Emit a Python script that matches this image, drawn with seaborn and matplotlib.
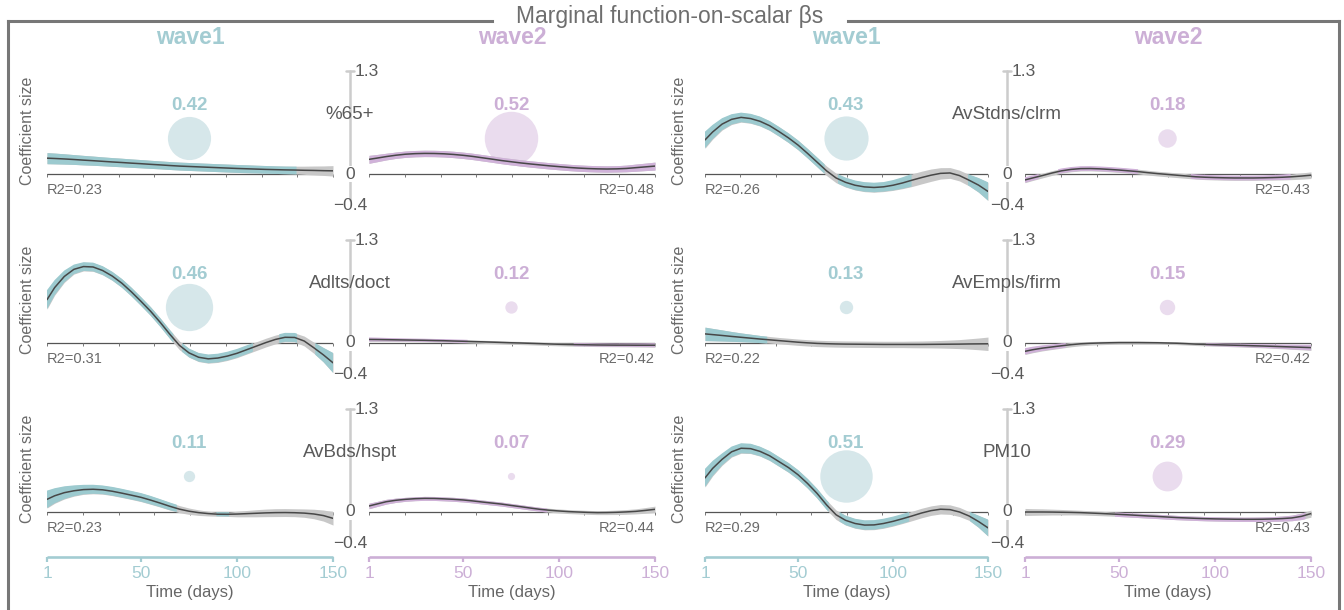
import numpy as np
import matplotlib
matplotlib.use("Agg")
import matplotlib.pyplot as plt
import matplotlib.transforms as mtransforms
from matplotlib.lines import Line2D
import seaborn as sns

sns.set_theme(style="white")
plt.rcParams['font.family'] = ['Liberation Sans', 'DejaVu Sans']

# ---------------- data ----------------
days = [1, 5, 10, 15, 20, 25, 30, 35, 40, 45, 50, 55, 60, 65, 70, 75,
        80, 85, 90, 95, 100, 105, 110, 115, 120, 125, 130, 135, 140, 145, 150]

variables_left = ["%65+", "Adlts/doct", "AvBds/hspt"]
variables_right = ["AvStdns/clrm", "AvEmpls/firm", "PM10"]

# %65+
pct65_w1_mean = [0.200, 0.196, 0.190, 0.183, 0.175, 0.168, 0.160,
                 0.152, 0.145, 0.137, 0.130, 0.122, 0.115, 0.107, 0.100,
                 0.095, 0.090, 0.085, 0.080, 0.075, 0.070, 0.066, 0.062,
                 0.058, 0.055, 0.052, 0.050, 0.047, 0.045, 0.042, 0.040]
pct65_w1_half = [0.070, 0.068, 0.065, 0.062, 0.060, 0.058, 0.056,
                 0.055, 0.054, 0.053, 0.052, 0.051, 0.050, 0.050, 0.050,
                 0.050, 0.050, 0.050, 0.050, 0.050, 0.050, 0.050, 0.049,
                 0.049, 0.048, 0.048, 0.049, 0.052, 0.056, 0.060, 0.066]
pct65_w2_mean = [0.185, 0.200, 0.220, 0.237, 0.250, 0.257, 0.260,
                 0.259, 0.255, 0.247, 0.236, 0.222, 0.205, 0.188, 0.170,
                 0.155, 0.140, 0.127, 0.115, 0.103, 0.093, 0.083, 0.075,
                 0.069, 0.065, 0.063, 0.065, 0.070, 0.080, 0.090, 0.100]
pct65_w2_half = [0.050, 0.046, 0.042, 0.040, 0.040, 0.040, 0.040,
                 0.040, 0.040, 0.040, 0.040, 0.040, 0.040, 0.040, 0.040,
                 0.040, 0.040, 0.040, 0.040, 0.040, 0.040, 0.040, 0.040,
                 0.040, 0.040, 0.040, 0.040, 0.042, 0.045, 0.047, 0.050]

# Adlts/doct
adlts_w1_mean = [0.547, 0.700, 0.840, 0.930, 0.965, 0.960, 0.915,
                 0.845, 0.755, 0.645, 0.525, 0.400, 0.260, 0.110, -0.030,
                 -0.125, -0.180, -0.200, -0.190, -0.165, -0.130, -0.085, -0.040,
                 0.005, 0.045, 0.072, 0.070, 0.025, -0.060, -0.150, -0.250]
adlts_w1_half = [0.120, 0.095, 0.075, 0.060, 0.055, 0.055, 0.055,
                 0.055, 0.055, 0.055, 0.055, 0.055, 0.055, 0.055, 0.055,
                 0.055, 0.055, 0.055, 0.055, 0.055, 0.055, 0.055, 0.055,
                 0.055, 0.055, 0.056, 0.057, 0.062, 0.070, 0.090, 0.125]
adlts_w2_mean = [0.045, 0.044, 0.042, 0.040, 0.038, 0.036, 0.034,
                 0.031, 0.029, 0.025, 0.022, 0.018, 0.015, 0.011, 0.007,
                 0.003, 0.000, -0.004, -0.008, -0.012, -0.016, -0.019, -0.021,
                 -0.023, -0.025, -0.026, -0.027, -0.027, -0.028, -0.028, -0.028]
adlts_w2_half = [0.025, 0.024, 0.022, 0.021, 0.020, 0.020, 0.020,
                 0.020, 0.020, 0.020, 0.020, 0.020, 0.020, 0.020, 0.020,
                 0.020, 0.020, 0.020, 0.020, 0.020, 0.020, 0.020, 0.020,
                 0.020, 0.020, 0.020, 0.020, 0.021, 0.022, 0.023, 0.025]

# AvBds/hspt
avbds_w1_mean = [0.160, 0.205, 0.244, 0.268, 0.283, 0.287, 0.280,
                 0.262, 0.238, 0.212, 0.185, 0.150, 0.112, 0.072, 0.036,
                 0.010, -0.008, -0.020, -0.028, -0.029, -0.026, -0.021, -0.016,
                 -0.011, -0.008, -0.007, -0.009, -0.014, -0.025, -0.045, -0.080]
avbds_w1_half = [0.110, 0.095, 0.080, 0.068, 0.060, 0.057, 0.055,
                 0.055, 0.055, 0.054, 0.054, 0.053, 0.050, 0.048, 0.045,
                 0.040, 0.035, 0.030, 0.026, 0.027, 0.035, 0.040, 0.045,
                 0.048, 0.050, 0.050, 0.050, 0.053, 0.060, 0.070, 0.085]
avbds_w2_mean = [0.076, 0.100, 0.130, 0.148, 0.160, 0.168, 0.172,
                 0.171, 0.166, 0.160, 0.152, 0.140, 0.126, 0.113, 0.100,
                 0.083, 0.067, 0.050, 0.034, 0.022, 0.013, 0.005, 0.000,
                 -0.005, -0.008, -0.007, -0.004, 0.001, 0.008, 0.020, 0.034]
avbds_w2_half = [0.035, 0.032, 0.030, 0.027, 0.025, 0.025, 0.025,
                 0.025, 0.025, 0.025, 0.025, 0.025, 0.025, 0.025, 0.025,
                 0.025, 0.025, 0.025, 0.025, 0.025, 0.025, 0.025, 0.025,
                 0.025, 0.025, 0.026, 0.028, 0.030, 0.032, 0.036, 0.040]

# AvStdns/clrm
avstd_w1_mean = [0.430, 0.530, 0.630, 0.690, 0.715, 0.700, 0.665,
                 0.610, 0.535, 0.455, 0.365, 0.260, 0.150, 0.040, -0.050,
                 -0.105, -0.142, -0.163, -0.170, -0.162, -0.142, -0.113, -0.078,
                 -0.045, -0.015, 0.008, 0.013, -0.020, -0.078, -0.140, -0.220]
avstd_w1_half = [0.105, 0.090, 0.075, 0.065, 0.060, 0.060, 0.060,
                 0.060, 0.060, 0.060, 0.060, 0.060, 0.060, 0.060, 0.060,
                 0.060, 0.060, 0.060, 0.060, 0.060, 0.065, 0.072, 0.080,
                 0.080, 0.078, 0.072, 0.068, 0.068, 0.072, 0.090, 0.115]
avstd_w2_mean = [-0.075, -0.050, -0.020, 0.012, 0.040, 0.058, 0.068,
                 0.069, 0.065, 0.058, 0.050, 0.040, 0.030, 0.017, 0.005,
                 -0.005, -0.015, -0.025, -0.035, -0.041, -0.045, -0.048, -0.050,
                 -0.050, -0.050, -0.048, -0.045, -0.041, -0.035, -0.026, -0.015]
avstd_w2_half = [0.035, 0.032, 0.030, 0.030, 0.030, 0.030, 0.030,
                 0.030, 0.030, 0.030, 0.030, 0.030, 0.030, 0.030, 0.030,
                 0.030, 0.030, 0.030, 0.030, 0.030, 0.030, 0.030, 0.030,
                 0.030, 0.030, 0.030, 0.032, 0.034, 0.036, 0.039, 0.042]

# AvEmpls/firm
avemp_w1_mean = [0.115, 0.106, 0.095, 0.083, 0.072, 0.061, 0.050,
                 0.040, 0.030, 0.020, 0.010, 0.002, -0.005, -0.009, -0.012,
                 -0.014, -0.015, -0.016, -0.017, -0.018, -0.018, -0.018, -0.018,
                 -0.018, -0.017, -0.016, -0.015, -0.014, -0.012, -0.011, -0.010]
avemp_w1_half = [0.085, 0.078, 0.070, 0.062, 0.055, 0.050, 0.045,
                 0.042, 0.040, 0.040, 0.040, 0.040, 0.040, 0.040, 0.040,
                 0.040, 0.040, 0.040, 0.040, 0.040, 0.040, 0.040, 0.042,
                 0.043, 0.045, 0.048, 0.052, 0.057, 0.065, 0.074, 0.085]
avemp_w2_mean = [-0.105, -0.085, -0.065, -0.050, -0.035, -0.021, -0.010,
                 -0.004, 0.000, 0.003, 0.005, 0.005, 0.005, 0.004, 0.003,
                 0.000, -0.003, -0.008, -0.014, -0.018, -0.022, -0.025, -0.028,
                 -0.031, -0.035, -0.038, -0.042, -0.046, -0.050, -0.054, -0.058]
avemp_w2_half = [0.040, 0.038, 0.035, 0.032, 0.030, 0.027, 0.025,
                 0.023, 0.022, 0.021, 0.020, 0.020, 0.020, 0.019, 0.018,
                 0.018, 0.018, 0.018, 0.018, 0.018, 0.018, 0.018, 0.020,
                 0.021, 0.022, 0.023, 0.025, 0.027, 0.030, 0.032, 0.035]

# PM10
pm10_w1_mean = [0.430, 0.550, 0.665, 0.760, 0.805, 0.800, 0.765,
                0.710, 0.635, 0.560, 0.470, 0.360, 0.235, 0.090, -0.035,
                -0.105, -0.145, -0.165, -0.163, -0.145, -0.118, -0.085, -0.050,
                -0.013, 0.017, 0.035, 0.030, 0.000, -0.050, -0.120, -0.200]
pm10_w1_half = [0.115, 0.095, 0.075, 0.066, 0.063, 0.062, 0.060,
                0.060, 0.060, 0.060, 0.060, 0.060, 0.060, 0.060, 0.060,
                0.060, 0.060, 0.060, 0.060, 0.060, 0.060, 0.060, 0.060,
                0.060, 0.060, 0.060, 0.060, 0.058, 0.055, 0.075, 0.105]
pm10_w2_mean = [0.000, 0.000, 0.000, -0.001, -0.003, -0.005, -0.008,
                -0.013, -0.018, -0.024, -0.030, -0.036, -0.043, -0.050, -0.056,
                -0.063, -0.070, -0.075, -0.080, -0.084, -0.087, -0.089, -0.091,
                -0.092, -0.092, -0.091, -0.088, -0.083, -0.075, -0.055, -0.020]
pm10_w2_half = [0.045, 0.042, 0.040, 0.037, 0.035, 0.032, 0.030,
                0.029, 0.028, 0.027, 0.027, 0.027, 0.027, 0.027, 0.027,
                0.027, 0.027, 0.027, 0.027, 0.027, 0.027, 0.027, 0.027,
                0.027, 0.028, 0.029, 0.030, 0.032, 0.035, 0.040, 0.045]

# bubble sizes (scalar effects) and R2 per variable
bubble_w1 = {"%65+": 0.42, "Adlts/doct": 0.46, "AvBds/hspt": 0.11,
             "AvStdns/clrm": 0.43, "AvEmpls/firm": 0.13, "PM10": 0.51}
bubble_w2 = {"%65+": 0.52, "Adlts/doct": 0.12, "AvBds/hspt": 0.07,
             "AvStdns/clrm": 0.18, "AvEmpls/firm": 0.15, "PM10": 0.29}
r2_w1 = {"%65+": 0.23, "Adlts/doct": 0.31, "AvBds/hspt": 0.23,
         "AvStdns/clrm": 0.26, "AvEmpls/firm": 0.22, "PM10": 0.29}
r2_w2 = {"%65+": 0.48, "Adlts/doct": 0.42, "AvBds/hspt": 0.44,
         "AvStdns/clrm": 0.43, "AvEmpls/firm": 0.42, "PM10": 0.43}

curves = {
    "%65+": ((pct65_w1_mean, pct65_w1_half), (pct65_w2_mean, pct65_w2_half)),
    "Adlts/doct": ((adlts_w1_mean, adlts_w1_half), (adlts_w2_mean, adlts_w2_half)),
    "AvBds/hspt": ((avbds_w1_mean, avbds_w1_half), (avbds_w2_mean, avbds_w2_half)),
    "AvStdns/clrm": ((avstd_w1_mean, avstd_w1_half), (avstd_w2_mean, avstd_w2_half)),
    "AvEmpls/firm": ((avemp_w1_mean, avemp_w1_half), (avemp_w2_mean, avemp_w2_half)),
    "PM10": ((pm10_w1_mean, pm10_w1_half), (pm10_w2_mean, pm10_w2_half)),
}

xticks = [1, 50, 100, 150]
wave_names = ["wave1", "wave2"]

# ---------------- styles ----------------
W, H = 1344, 610
PPU = 79.2  # pixels per y unit
YLIM = (-0.45, 1.35)
TEAL_TXT, TEAL_RIB, TEAL_BUB = "#a3ccd2", "#9ccacf", "#d6e7ea"
PURP_TXT, PURP_RIB, PURP_BUB = "#ccafd6", "#d0b2d9", "#eadcee"
GRAY_RIB = "#c8c8c8"
LINE_C = "#474747"
TXT_C = "#5a5a5a"
FRAME_C = "#777777"
wave_style = [(TEAL_TXT, TEAL_RIB, TEAL_BUB), (PURP_TXT, PURP_RIB, PURP_BUB)]

groups = [
    dict(vars=variables_left, w1=(47, 333), axis_x=350, w2=(369, 655), ylab_x=28),
    dict(vars=variables_right, w1=(705, 988), axis_x=1007, w2=(1025, 1311), ylab_x=680),
]
row_zero_py = [174, 343, 512]

fig = plt.figure(figsize=(W / 100, H / 100), dpi=100)
fig.patch.set_facecolor("white")


def fx(px):
    return px / W


def fy(py):
    return 1 - py / H


def rect(x0, x1, zero_py):
    top_py = zero_py - YLIM[1] * PPU
    bot_py = zero_py - YLIM[0] * PPU
    return [fx(x0), fy(bot_py), (x1 - x0) / W, (bot_py - top_py) / H]


fine = np.linspace(1, 150, 1193)


def draw_panel(ax, mean, half, widx, var, last_row):
    txt_c, rib_c, bub_c = wave_style[widx]
    m = np.asarray(mean, float)
    h = np.asarray(half, float)
    lo = np.interp(fine, days, m - h)
    hi = np.interp(fine, days, m + h)
    sig = (lo > 0) | (hi < 0)
    ax.set_facecolor("none")
    # bubble
    v = (bubble_w1 if widx == 0 else bubble_w2)[var]
    sns.scatterplot(x=[75], y=[0.45], s=(74.0 * v) ** 2, color=bub_c,
                    linewidth=0, ax=ax, legend=False, zorder=1)
    ax.text(75, 0.86, f"{v:.2f}", ha="center", va="center", color=txt_c,
            fontsize=13.5, fontweight="bold", zorder=6)
    # zero line with small ticks
    ax.plot([1, 150], [0, 0], color="#555555", lw=0.9, zorder=2)
    ax.plot(np.linspace(1, 150, 9), np.zeros(9), ls="none", marker=3,
            ms=2.5, mew=0.7, color="#777777", zorder=2)
    # ribbons
    ax.fill_between(fine, lo, hi, color=GRAY_RIB, lw=0, zorder=3)
    ax.fill_between(fine, lo, hi, where=sig, color=rib_c, lw=0, zorder=3.5)
    sns.lineplot(x=days, y=mean, ax=ax, color=LINE_C, lw=1.1, zorder=5,
                 estimator=None, sort=False)
    # R2
    r2 = (r2_w1 if widx == 0 else r2_w2)[var]
    if widx == 0:
        ax.text(1, -0.2, f"R2={r2:.2f}", ha="left", va="center",
                color="#6a6a6a", fontsize=10.5)
    else:
        ax.text(150, -0.2, f"R2={r2:.2f}", ha="right", va="center",
                color="#6a6a6a", fontsize=10.5)
    ax.set_xlim(1, 150)
    ax.set_ylim(*YLIM)
    ax.set_xlabel("")
    ax.set_ylabel("")
    for s in ax.spines.values():
        s.set_visible(False)
    ax.set_yticks([])
    if last_row:
        sp = ax.spines["bottom"]
        sp.set_visible(True)
        sp.set_position(("outward", 9.4 * 0.72))
        sp.set_bounds(1, 150)
        sp.set_color(txt_c)
        sp.set_linewidth(1.9)
        sp.set_capstyle("butt")
        ax.set_xticks(xticks)
        ax.set_xticklabels([str(t) for t in xticks])
        ax.tick_params(axis="x", bottom=True, direction="out", length=3.8,
                       width=1.6, color=txt_c, labelcolor=txt_c,
                       labelsize=12.5, pad=2.5)
        ax.set_xlabel("Time (days)", color="#666666", fontsize=12, labelpad=3)
    else:
        ax.set_xticks([])


for g in groups:
    for r, var in enumerate(g["vars"]):
        z = row_zero_py[r]
        last = r == len(g["vars"]) - 1
        ax1 = fig.add_axes(rect(g["w1"][0], g["w1"][1], z))
        ax2 = fig.add_axes(rect(g["w2"][0], g["w2"][1], z))
        (m1, h1), (m2, h2) = curves[var]
        draw_panel(ax1, m1, h1, 0, var, last)
        draw_panel(ax2, m2, h2, 1, var, last)

        trans = mtransforms.blended_transform_factory(fig.transFigure, ax1.transData)
        ax_x = fx(g["axis_x"])
        fig.add_artist(Line2D([ax_x, ax_x], [-0.33, 1.3], transform=trans,
                              color="#cccccc", lw=1.8, zorder=2))
        fig.add_artist(Line2D([fx(g["axis_x"] - 4), fx(g["axis_x"] + 4)], [1.3, 1.3],
                              transform=trans, color="#cccccc", lw=1.8, zorder=2))
        fig.text(fx(g["axis_x"] + 5), 1.3, "1.3", transform=trans, ha="left",
                 va="center", color=TXT_C, fontsize=12.5, zorder=4)
        fig.text(ax_x, 0, "0", transform=trans, ha="center", va="center",
                 color=TXT_C, fontsize=12.5, zorder=4,
                 bbox=dict(facecolor="white", edgecolor="none", pad=0.5))
        fig.text(ax_x, -0.4, "\u22120.4", transform=trans, ha="center",
                 va="center", color=TXT_C, fontsize=12.5, zorder=4)
        fig.text(ax_x, 0.75, var, transform=trans, ha="center", va="center",
                 color=TXT_C, fontsize=13.5, zorder=4)
        fig.text(fx(g["ylab_x"]), 0.55, "Coefficient size", transform=trans,
                 ha="center", va="center", rotation=90, color="#6a6a6a",
                 fontsize=11.5, zorder=4)
        if r == 0:
            for widx, (x0, x1) in enumerate([g["w1"], g["w2"]]):
                fig.text(fx((x0 + x1) / 2), fy(38), wave_names[widx],
                         ha="center", va="center", fontsize=16.5,
                         fontweight="bold", color=wave_style[widx][0])

# ---------------- frame and title ----------------
frame_kw = dict(color=FRAME_C, lw=2.2, solid_capstyle="projecting", zorder=1)
fig.add_artist(Line2D([fx(8), fx(8)], [fy(20.5), fy(620)], **frame_kw))
fig.add_artist(Line2D([fx(1339), fx(1339)], [fy(20.5), fy(620)], **frame_kw))
fig.add_artist(Line2D([fx(8), fx(492)], [fy(20.5), fy(20.5)], **frame_kw))
fig.add_artist(Line2D([fx(848), fx(1339)], [fy(20.5), fy(20.5)], **frame_kw))
fig.text(fx(670), fy(17), "Marginal function-on-scalar \u03b2s", ha="center",
         va="center", fontsize=16.5, color="#6e6e6e")

fig.savefig("out.png", dpi=100)
